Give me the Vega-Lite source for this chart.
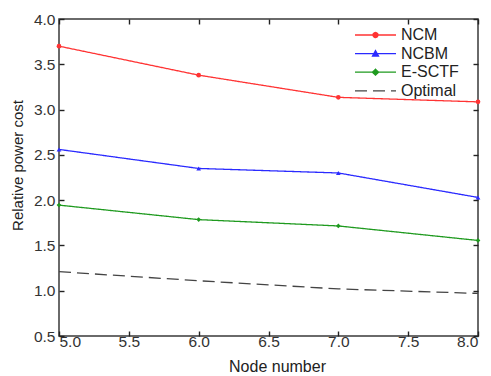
{
  "$schema": "https://vega.github.io/schema/vega-lite/v6.json",
  "width": 419,
  "height": 317,
  "autosize": {"type": "none"},
  "padding": {"left": 59, "top": 19, "right": 13, "bottom": 40},
  "background": "white",
  "config": {
    "font": "Liberation Sans",
    "view": {"stroke": "#3a3a3a", "strokeWidth": 1.5},
    "axis": {"grid": false, "domain": false, "ticks": true, "labelFont": "Liberation Sans", "titleFont": "Liberation Sans", "labelFontSize": 15.5, "titleFontSize": 15.5, "labelColor": "#333", "titleColor": "#222", "titleFontWeight": "normal", "tickColor": "#222", "tickOpacity": 1, "tickSize": 5, "tickWidth": 1.4}
  },
  "data": {"values": [
    {"n": 5, "cost": 3.70, "series": "NCM"},
    {"n": 6, "cost": 3.38, "series": "NCM"},
    {"n": 7, "cost": 3.135, "series": "NCM"},
    {"n": 8, "cost": 3.085, "series": "NCM"},
    {"n": 5, "cost": 2.56, "series": "NCBM"},
    {"n": 6, "cost": 2.35, "series": "NCBM"},
    {"n": 7, "cost": 2.30, "series": "NCBM"},
    {"n": 8, "cost": 2.03, "series": "NCBM"},
    {"n": 5, "cost": 1.945, "series": "E-SCTF"},
    {"n": 6, "cost": 1.785, "series": "E-SCTF"},
    {"n": 7, "cost": 1.715, "series": "E-SCTF"},
    {"n": 8, "cost": 1.555, "series": "E-SCTF"},
    {"n": 5, "cost": 1.21, "series": "Optimal"},
    {"n": 6, "cost": 1.11, "series": "Optimal"},
    {"n": 7, "cost": 1.02, "series": "Optimal"},
    {"n": 8, "cost": 0.97, "series": "Optimal"}
  ]},
  "resolve": {"axis": {"x": "independent", "y": "independent"}},
  "layer": [
    {
      "mark": {"type": "line", "strokeWidth": 1.3},
      "encoding": {
        "x": {"field": "n", "type": "quantitative", "scale": {"domain": [5, 8], "nice": false, "zero": false},
              "axis": {"orient": "bottom", "offset": -5, "values": [5, 5.5, 6, 6.5, 7, 7.5, 8], "format": ".1f", "title": "Node number", "titleFontSize": 16, "labelPadding": -2, "titlePadding": 9, "titleX": 218}},
        "y": {"field": "cost", "type": "quantitative", "scale": {"domain": [0.5, 4], "nice": false, "zero": false},
              "axis": {"orient": "left", "offset": -5, "values": [0.5, 1, 1.5, 2, 2.5, 3, 3.5, 4], "format": ".1f", "title": "Relative power cost", "titleFontSize": 15, "labelPadding": 4, "titlePadding": 8, "titleY": 146}},
        "color": {"field": "series", "type": "nominal",
                  "scale": {"domain": ["NCM", "NCBM", "E-SCTF", "Optimal"], "range": ["#ff3333", "#2a2aff", "#1f9a1f", "#444444"]},
                  "legend": {
                    "title": null, "orient": "none", "legendX": 294, "legendY": 8,
                    "labelFont": "Liberation Sans", "labelFontSize": 16, "labelColor": "#222",
                    "symbolSize": 100, "symbolStrokeWidth": 1.3, "labelOffset": 32, "rowPadding": 2.6,
                    "encode": {"symbols": {"update": {
                      "shape": {"signal": "datum.value === 'NCM' ? 'M-1.2,0H7M2.4,0A0.5,0.5 0 1,0 3.4,0A0.5,0.5 0 1,0 2.4,0' : datum.value === 'NCBM' ? 'M-1.2,0H7M2.9,-0.6L3.5,0.5L2.3,0.5Z' : datum.value === 'E-SCTF' ? 'M-1.2,0H7M2.9,-0.6L3.5,0L2.9,0.6L2.3,0Z' : 'M-1.2,0H7'"},
                      "stroke": {"signal": "datum.value === 'NCM' ? '#ff3333' : datum.value === 'NCBM' ? '#2a2aff' : datum.value === 'E-SCTF' ? '#1f9a1f' : '#444444'"},
                      "fill": {"signal": "datum.value === 'NCM' ? '#ff3333' : datum.value === 'NCBM' ? '#2a2aff' : datum.value === 'E-SCTF' ? '#1f9a1f' : 'transparent'"},
                      "strokeDash": {"signal": "datum.value === 'Optimal' ? [11, 5] : [1, 0]"},
                      "opacity": {"value": 1}
                    }}}
                  }},
        "strokeDash": {"field": "series", "type": "nominal",
                       "scale": {"domain": ["NCM", "NCBM", "E-SCTF", "Optimal"], "range": [[1, 0], [1, 0], [1, 0], [12, 6]]},
                       "legend": null}
      }
    },
    {
      "transform": [{"filter": "datum.series !== 'Optimal'"}],
      "mark": {"type": "point", "filled": true, "size": 22, "opacity": 1},
      "encoding": {
        "x": {"field": "n", "type": "quantitative", "axis": null},
        "y": {"field": "cost", "type": "quantitative", "axis": null},
        "color": {"field": "series", "type": "nominal"},
        "shape": {"field": "series", "type": "nominal",
                  "scale": {"domain": ["NCM", "NCBM", "E-SCTF"], "range": ["circle", "triangle-up", "diamond"]},
                  "legend": null}
      }
    },
    {
      "mark": {"type": "point", "opacity": 0},
      "encoding": {
        "x": {"field": "n", "type": "quantitative",
              "axis": {"orient": "top", "offset": -5, "values": [5, 5.5, 6, 6.5, 7, 7.5, 8], "labels": false, "title": null}},
        "y": {"field": "cost", "type": "quantitative",
              "axis": {"orient": "right", "offset": -5, "values": [0.5, 1, 1.5, 2, 2.5, 3, 3.5, 4], "labels": false, "title": null}}
      }
    }
  ]
}
